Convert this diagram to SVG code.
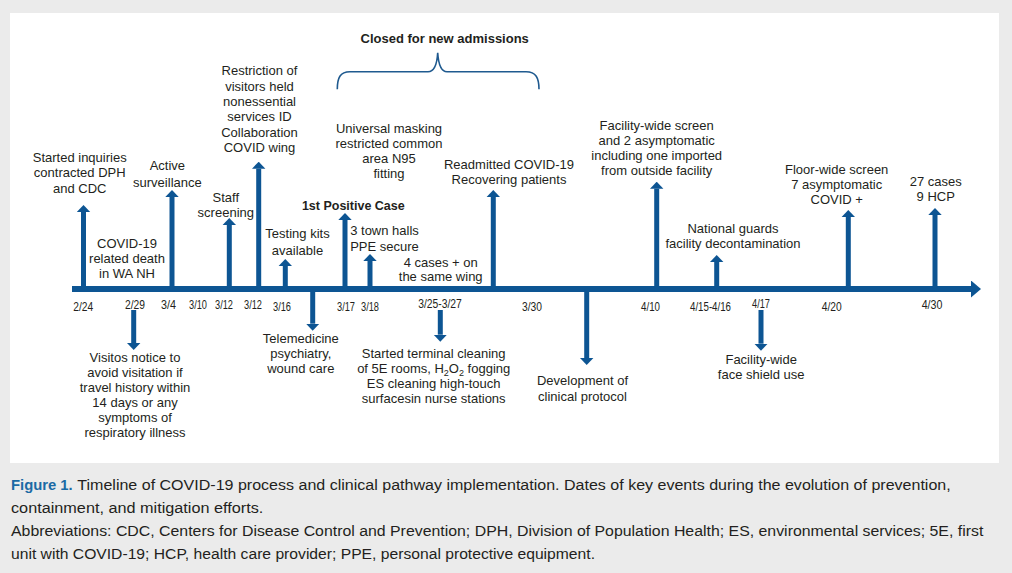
<svg xmlns="http://www.w3.org/2000/svg" width="1012" height="573" viewBox="0 0 1012 573">
<style>
  .lbl { font-family: "Liberation Sans", Arial, sans-serif; font-size: 13px; fill: #231f20; text-anchor: middle; }
  .bold { font-weight: bold; }
  .date { font-family: "Liberation Sans", Arial, sans-serif; font-size: 12.5px; fill: #231f20; text-anchor: middle; }
  .cap { font-family: "Liberation Sans", Arial, sans-serif; font-size: 15.5px; fill: #231f20; }
  .fig { font-weight: bold; fill: #1b6aa5; }
  .arr { stroke: #0d5593; stroke-width: 5; fill: none; marker-end: url(#head); }
  .sub { font-size: 9px; }
</style>
<defs>
  <marker id="head" markerUnits="userSpaceOnUse" markerWidth="7" markerHeight="14" refX="0" refY="7" orient="auto">
    <path d="M0,0.3 L7,7 L0,13.7 z" fill="#0d5593"/>
  </marker>
  <marker id="axhead" markerUnits="userSpaceOnUse" markerWidth="10" markerHeight="17" refX="0" refY="8.5" orient="auto">
    <path d="M0,0 L10,8.5 L0,17 z" fill="#0d5593"/>
  </marker>
</defs>
<rect x="0" y="0" width="1012" height="573" fill="#ebebeb"/>
<rect x="10" y="13" width="989" height="450" fill="#ffffff"/>

<g id="connectors">
  <line id="axis" x1="72" y1="289" x2="971" y2="289" stroke="#0d5593" stroke-width="6" marker-end="url(#axhead)"/>
  <!-- up arrows -->
  <line class="arr" x1="83.5" y1="289" x2="83.5" y2="212"/>
  <line class="arr" x1="172" y1="289" x2="172" y2="197"/>
  <line class="arr" x1="229.3" y1="289" x2="229.3" y2="225"/>
  <line class="arr" x1="258.7" y1="289" x2="258.7" y2="168.7"/>
  <line class="arr" x1="285.3" y1="289" x2="285.3" y2="266"/>
  <line class="arr" x1="345" y1="289" x2="345" y2="220"/>
  <line class="arr" x1="370" y1="289" x2="370" y2="261"/>
  <line class="arr" x1="493.3" y1="289" x2="493.3" y2="197"/>
  <line class="arr" x1="656.7" y1="289" x2="656.7" y2="188.7"/>
  <line class="arr" x1="716.7" y1="289" x2="716.7" y2="262"/>
  <line class="arr" x1="848.3" y1="289" x2="848.3" y2="217"/>
  <line class="arr" x1="935" y1="289" x2="935" y2="215"/>
  <!-- down arrows -->
  <line class="arr" x1="133.7" y1="310" x2="133.7" y2="343"/>
  <line class="arr" x1="312.7" y1="289" x2="312.7" y2="323.7"/>
  <line class="arr" x1="440.3" y1="310" x2="440.3" y2="334.7"/>
  <line class="arr" x1="586.7" y1="289" x2="586.7" y2="358"/>
  <line class="arr" x1="761" y1="310" x2="761" y2="343.7"/>
  <!-- brace -->
  <path id="brace" d="M337.3,89.3 C337.3,78 340,71.7 350,71.7 L428,71.7 C434,71.7 437,65 437.7,52.7 C438.5,65 441.5,71.7 447,71.7 L526,71.7 C536,71.7 539,78 539,89.3" fill="none" stroke="#1f5a8f" stroke-width="1.6"/>
</g>

<g id="dates">
  <text class="date" x="83.3" y="310.7" textLength="20" lengthAdjust="spacingAndGlyphs">2/24</text>
  <text class="date" x="135" y="309" textLength="20" lengthAdjust="spacingAndGlyphs">2/29</text>
  <text class="date" x="168.5" y="309" textLength="15" lengthAdjust="spacingAndGlyphs">3/4</text>
  <text class="date" x="198" y="309" textLength="18" lengthAdjust="spacingAndGlyphs">3/10</text>
  <text class="date" x="224" y="309" textLength="18" lengthAdjust="spacingAndGlyphs">3/12</text>
  <text class="date" x="253" y="309" textLength="18" lengthAdjust="spacingAndGlyphs">3/12</text>
  <text class="date" x="282" y="310.7" textLength="18" lengthAdjust="spacingAndGlyphs">3/16</text>
  <text class="date" x="346" y="310.7" textLength="18" lengthAdjust="spacingAndGlyphs">3/17</text>
  <text class="date" x="370" y="310.7" textLength="18" lengthAdjust="spacingAndGlyphs">3/18</text>
  <text class="date" x="440" y="308" textLength="43.7" lengthAdjust="spacingAndGlyphs">3/25-3/27</text>
  <text class="date" x="532" y="310.7" textLength="20" lengthAdjust="spacingAndGlyphs">3/30</text>
  <text class="date" x="650.5" y="310.7" textLength="19" lengthAdjust="spacingAndGlyphs">4/10</text>
  <text class="date" x="710.5" y="310.7" textLength="41" lengthAdjust="spacingAndGlyphs">4/15-4/16</text>
  <text class="date" x="761" y="308" textLength="18" lengthAdjust="spacingAndGlyphs">4/17</text>
  <text class="date" x="831.7" y="310.7" textLength="20" lengthAdjust="spacingAndGlyphs">4/20</text>
  <text class="date" x="932" y="309" textLength="20.7" lengthAdjust="spacingAndGlyphs">4/30</text>
</g>

<g id="closed">
  <text class="lbl bold" x="444.7" y="42.7">Closed for new admissions</text>
</g>
<g id="ev-0224">
  <text class="lbl" x="79.7" y="161.7">Started inquiries</text>
  <text class="lbl" x="79.7" y="177">contracted DPH</text>
  <text class="lbl" x="79.7" y="192.5">and CDC</text>
</g>
<g id="ev-0229-death">
  <text class="lbl" x="127" y="248.3">COVID-19</text>
  <text class="lbl" x="127" y="263.3">related death</text>
  <text class="lbl" x="127" y="278.3">in WA NH</text>
</g>
<g id="ev-0229-visitors">
  <text class="lbl" x="135" y="362.3">Visitos notice to</text>
  <text class="lbl" x="135" y="377">avoid visitation if</text>
  <text class="lbl" x="135" y="392">travel history within</text>
  <text class="lbl" x="135" y="407">14 days or any</text>
  <text class="lbl" x="135" y="421.8">symptoms of</text>
  <text class="lbl" x="135" y="436.7">respiratory illness</text>
</g>
<g id="ev-0304">
  <text class="lbl" x="167.4" y="170">Active</text>
  <text class="lbl" x="167.4" y="186.5">surveillance</text>
</g>
<g id="ev-0312-staff">
  <text class="lbl" x="225.8" y="202.3">Staff</text>
  <text class="lbl" x="225.8" y="217">screening</text>
</g>
<g id="ev-0312-restriction">
  <text class="lbl" x="259.5" y="75">Restriction of</text>
  <text class="lbl" x="259.5" y="90.5">visitors held</text>
  <text class="lbl" x="259.5" y="106">nonessential</text>
  <text class="lbl" x="259.5" y="121">services ID</text>
  <text class="lbl" x="259.5" y="136.5">Collaboration</text>
  <text class="lbl" x="259.5" y="151.7">COVID wing</text>
</g>
<g id="ev-0316-testing">
  <text class="lbl" x="297.5" y="238.3">Testing kits</text>
  <text class="lbl" x="297.5" y="255">available</text>
</g>
<g id="ev-0316-telemedicine">
  <text class="lbl" x="300.8" y="343">Telemedicine</text>
  <text class="lbl" x="300.8" y="358">psychiatry,</text>
  <text class="lbl" x="300.8" y="373">wound care</text>
</g>
<g id="ev-0317">
  <text class="lbl bold" x="353.3" y="210" style="font-size:12.5px">1st Positive Case</text>
</g>
<g id="ev-0317-masking">
  <text class="lbl" x="389" y="133.3">Universal masking</text>
  <text class="lbl" x="389" y="148.3">restricted common</text>
  <text class="lbl" x="389" y="163.3">area N95</text>
  <text class="lbl" x="389" y="178">fitting</text>
</g>
<g id="ev-0318">
  <text class="lbl" x="384.5" y="235">3 town halls</text>
  <text class="lbl" x="384.5" y="250.7">PPE secure</text>
</g>
<g id="ev-0325-cases">
  <text class="lbl" x="440.7" y="266.7">4 cases + on</text>
  <text class="lbl" x="440.7" y="280.5">the same wing</text>
</g>
<g id="ev-0325-cleaning">
  <text class="lbl" x="433.7" y="358.3">Started terminal cleaning</text>
  <text class="lbl" x="433.7" y="373.3">of 5E rooms, H<tspan class="sub" dy="3">2</tspan><tspan dy="-3">O</tspan><tspan class="sub" dy="3">2</tspan><tspan dy="-3"> fogging</tspan></text>
  <text class="lbl" x="433.7" y="388.3">ES cleaning high-touch</text>
  <text class="lbl" x="433.7" y="403.3">surfacesin nurse stations</text>
</g>
<g id="ev-0330-readmitted">
  <text class="lbl" x="509" y="169.3">Readmitted COVID-19</text>
  <text class="lbl" x="509" y="184.3">Recovering patients</text>
</g>
<g id="ev-protocol">
  <text class="lbl" x="582.5" y="384.5">Development of</text>
  <text class="lbl" x="582.5" y="400.5">clinical protocol</text>
</g>
<g id="ev-0410">
  <text class="lbl" x="656.7" y="130">Facility-wide screen</text>
  <text class="lbl" x="656.7" y="144.8">and 2 asymptomatic</text>
  <text class="lbl" x="656.7" y="160">including one imported</text>
  <text class="lbl" x="656.7" y="175">from outside facility</text>
</g>
<g id="ev-0415">
  <text class="lbl" x="733" y="233.3">National guards</text>
  <text class="lbl" x="733" y="248.3">facility decontamination</text>
</g>
<g id="ev-0417">
  <text class="lbl" x="761.2" y="364.3">Facility-wide</text>
  <text class="lbl" x="761.2" y="379.3">face shield use</text>
</g>
<g id="ev-0420">
  <text class="lbl" x="836.7" y="174.3">Floor-wide screen</text>
  <text class="lbl" x="836.7" y="189.3">7 asymptomatic</text>
  <text class="lbl" x="836.7" y="204.3">COVID +</text>
</g>
<g id="ev-0430">
  <text class="lbl" x="935.7" y="185.7">27 cases</text>
  <text class="lbl" x="935.7" y="201">9 HCP</text>
</g>

<g id="caption">
  <text class="cap fig" x="11" y="490" textLength="61.7" lengthAdjust="spacingAndGlyphs">Figure 1.</text>
  <text class="cap" x="77.3" y="490" textLength="873.4" lengthAdjust="spacingAndGlyphs">Timeline of COVID-19 process and clinical pathway implementation. Dates of key events during the evolution of prevention,</text>
  <text class="cap" x="11" y="512.7" textLength="252.3" lengthAdjust="spacingAndGlyphs">containment, and mitigation efforts.</text>
  <text class="cap" x="11" y="536" textLength="972.3" lengthAdjust="spacingAndGlyphs">Abbreviations: CDC, Centers for Disease Control and Prevention; DPH, Division of Population Health; ES, environmental services; 5E, first</text>
  <text class="cap" x="11" y="559.3" textLength="584" lengthAdjust="spacingAndGlyphs">unit with COVID-19; HCP, health care provider; PPE, personal protective equipment.</text>
</g>
</svg>
